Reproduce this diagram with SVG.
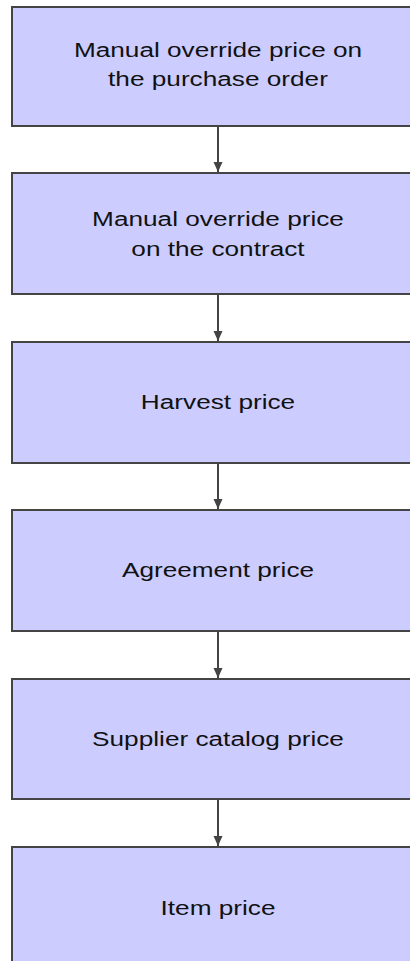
<svg xmlns="http://www.w3.org/2000/svg" width="410" height="961" viewBox="0 0 410 961">
  <style>
    .box { fill: #ccccff; stroke: #444444; stroke-width: 2; }
    .lbl { font-family: "Liberation Sans", Arial, sans-serif; font-size: 20px; fill: #111111; text-anchor: middle; }
    .conn { stroke: #444444; stroke-width: 2; fill: none; marker-end: url(#arrow); }
  </style>
  <defs>
    <!-- filled triangular head, tip at the end of the line -->
    <marker id="arrow" markerWidth="10" markerHeight="10" refX="10" refY="5" orient="auto" markerUnits="userSpaceOnUse" viewBox="0 0 10 10">
      <path d="M0,0.5 L10,5 L0,9.5 Z" fill="#444444"/>
    </marker>
  </defs>
  <rect width="410" height="961" fill="#ffffff"/>

  <g id="connectors">
    <line class="conn" x1="218" y1="126" x2="218" y2="172"/>
    <line class="conn" x1="218" y1="294" x2="218" y2="341"/>
    <line class="conn" x1="218" y1="463" x2="218" y2="509"/>
    <line class="conn" x1="218" y1="631" x2="218" y2="678"/>
    <line class="conn" x1="218" y1="799" x2="218" y2="846"/>
  </g>

  <g id="node-manual-po">
    <rect class="box" x="12" y="7" width="412" height="119"/>
    <text class="lbl" transform="translate(218 57) scale(1.31 1)">Manual override price on</text>
    <text class="lbl" transform="translate(218 86) scale(1.31 1)">the purchase order</text>
  </g>
  <g id="node-manual-contract">
    <rect class="box" x="12" y="173" width="412" height="121"/>
    <text class="lbl" transform="translate(218 226) scale(1.31 1)">Manual override price</text>
    <text class="lbl" transform="translate(218 256) scale(1.31 1)">on the contract</text>
  </g>
  <g id="node-harvest">
    <rect class="box" x="12" y="342" width="412" height="121"/>
    <text class="lbl" transform="translate(218 409) scale(1.31 1)">Harvest price</text>
  </g>
  <g id="node-agreement">
    <rect class="box" x="12" y="510" width="412" height="121"/>
    <text class="lbl" transform="translate(218 577) scale(1.31 1)">Agreement price</text>
  </g>
  <g id="node-supplier-catalog">
    <rect class="box" x="12" y="679" width="412" height="120"/>
    <text class="lbl" transform="translate(218 746) scale(1.31 1)">Supplier catalog price</text>
  </g>
  <g id="node-item">
    <rect class="box" x="12" y="847" width="412" height="130"/>
    <text class="lbl" transform="translate(218 915) scale(1.31 1)">Item price</text>
  </g>
</svg>
